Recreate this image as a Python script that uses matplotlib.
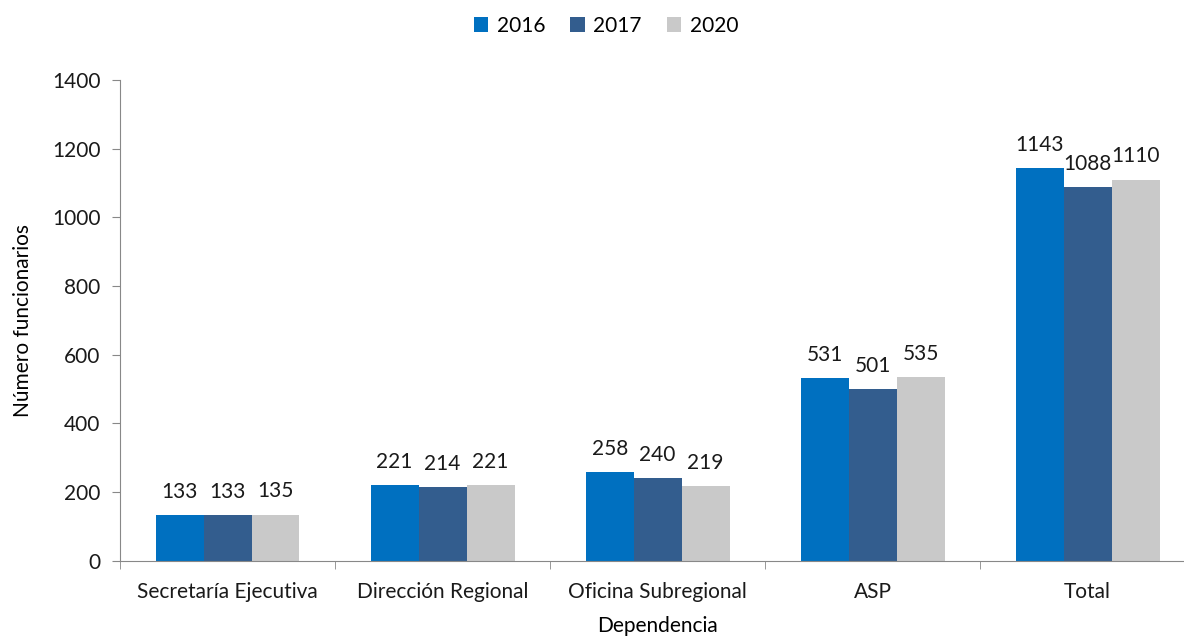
import matplotlib
matplotlib.use("Agg")
import matplotlib.pyplot as plt
import numpy as np

plt.rcParams['font.family'] = ['Lato', 'DejaVu Sans']

categories = ["Secretaría Ejecutiva", "Dirección Regional", "Oficina Subregional", "ASP", "Total"]
years = ["2016", "2017", "2020"]
v2016 = [133, 221, 258, 531, 1143]
v2017 = [133, 214, 240, 501, 1088]
v2020 = [135, 221, 219, 535, 1110]
colors = ["#0070C0", "#335D8E", "#C9C9C9"]

fig = plt.figure(figsize=(11.84, 6.44), dpi=100)
ax = fig.add_axes([0.1014, 0.129, 0.908, 0.747])

x = np.arange(len(categories))
w = 0.223
for i, (vals, yr) in enumerate(zip([v2016, v2017, v2020], years)):
    pos = x + (i - 1) * w
    ax.bar(pos, vals, width=w, color=colors[i], label=yr)
    for p, v in zip(pos, vals):
        ax.text(p, v + 38, str(v), ha="center", va="bottom", fontsize=15, color="#1a1a1a")

ax.set_xlim(-0.5, len(categories) - 0.5)
ax.set_ylim(0, 1400)
ax.set_yticks(range(0, 1401, 200))
ax.set_xticks(x)
ax.set_xticklabels(categories)
ax.set_xticks(np.arange(-0.5, len(categories), 1), minor=True)
ax.tick_params(axis="x", which="major", length=0, pad=15)
ax.tick_params(axis="x", which="minor", length=6, color="#888888", direction="out")
ax.tick_params(axis="y", length=6, color="#888888", direction="out", pad=8)
ax.tick_params(labelsize=15, labelcolor="#1a1a1a")

for s in ["top", "right"]:
    ax.spines[s].set_visible(False)
for s in ["left", "bottom"]:
    ax.spines[s].set_color("#888888")

ax.set_ylabel("Número funcionarios", fontsize=15, labelpad=14, color="black")
ax.set_xlabel("Dependencia", fontsize=15, labelpad=10, color="black")

ax.legend(loc="center", bbox_to_anchor=(0.452, 1.112), ncol=3, frameon=False,
          fontsize=15, handlelength=0.7, handleheight=0.7, handletextpad=0.4, columnspacing=1.2)

fig.savefig("out.png", dpi=100)
